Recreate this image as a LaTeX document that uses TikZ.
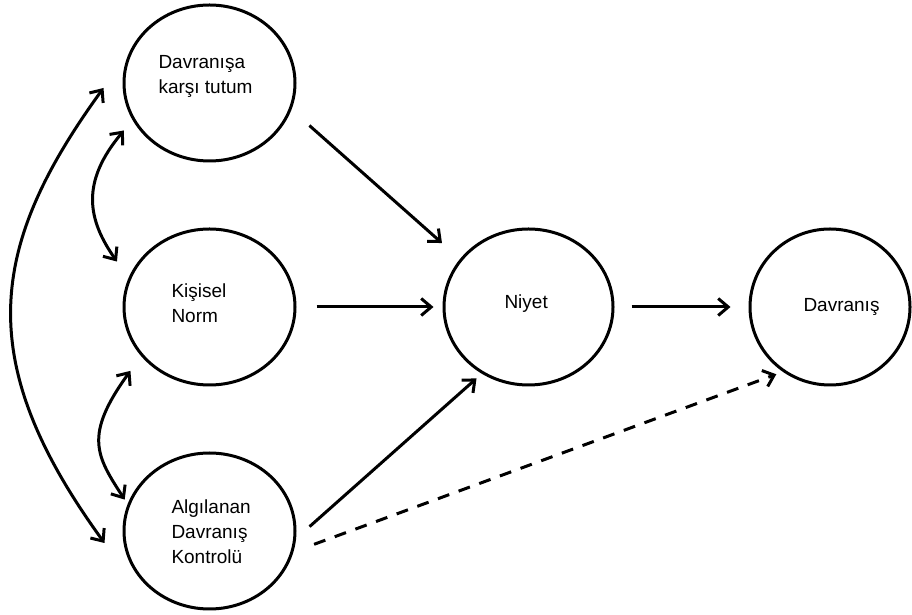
\documentclass[tikz,border=0pt]{standalone}
\usepackage{fontspec}
\setmainfont{Liberation Sans}
\usetikzlibrary{shapes.geometric,arrows.meta}

\begin{document}
\begin{tikzpicture}[x=1pt,y=1pt,line width=3pt,
	>={Straight Barb[length=10pt,width=17pt]},
	oval/.style={draw,ellipse,inner sep=0pt,minimum width=171pt,minimum height=156pt},
	txt/.style={anchor=north west,align=left,inner sep=0pt,font=\fontsize{19}{25}\selectfont}]
		\useasboundingbox (0,0) rectangle (912,615);
		\node[oval] (tutum) at (209.5,532) {};
		\node[oval] (norm) at (209.5,308) {};
		\node[oval] (algi) at (209.5,84) {};
		\node[oval,minimum width=169pt] (niyet) at (528.5,308) {};
		\node[oval,minimum width=160pt] (davranis) at (830,308) {};
		\node[txt] (tutumtxt) at (157,561) {Davranışa\\karşı tutum};
		\node[txt] (normtxt) at (170,333) {Kişisel\\Norm};
		\node[txt] (algitxt) at (170,117) {Algılanan\\Davranış\\Kontrolü};
		\node[txt] (niyettxt) at (503,322) {Niyet};
		\node[txt] (davranistxt) at (802,318) {Davranış};
		\draw[->,shorten <=24pt,shorten >=24pt] (tutum.-18) -- (niyet.145);
		\draw[->,shorten <=20pt,shorten >=9pt] (norm.east) -- (niyet.west);
		\draw[->,shorten <=18pt,shorten >=7pt] (algi.-5) -- (niyet.235);
		\draw[->,shorten <=17pt,shorten >=18pt] (niyet.east) -- (davranis.west);
		\draw[->,dash pattern=on 12pt off 10pt,shorten <=22pt,shorten >=7pt] (algi.-14) -- (davranis.234);
		\draw[<->] ([shift={(-12,-5)}]tutum.210)
		to[out=230,in=125,out distance=68pt,in distance=51pt] ([shift={(-19,3)}]norm.150);
		\draw[<->] ([shift={(-10,-15.5)}]norm.215)
		to[out=234,in=123,out distance=80pt,in distance=52pt] ([shift={(-4,2)}]algi.160);
		\draw[<->] ([shift={(-19,-5)}]tutum.west)
		to[out=234,in=126,out distance=197pt,in distance=224pt] ([shift={(-18,-12)}]algi.west);
		\end{tikzpicture}
\end{document}
